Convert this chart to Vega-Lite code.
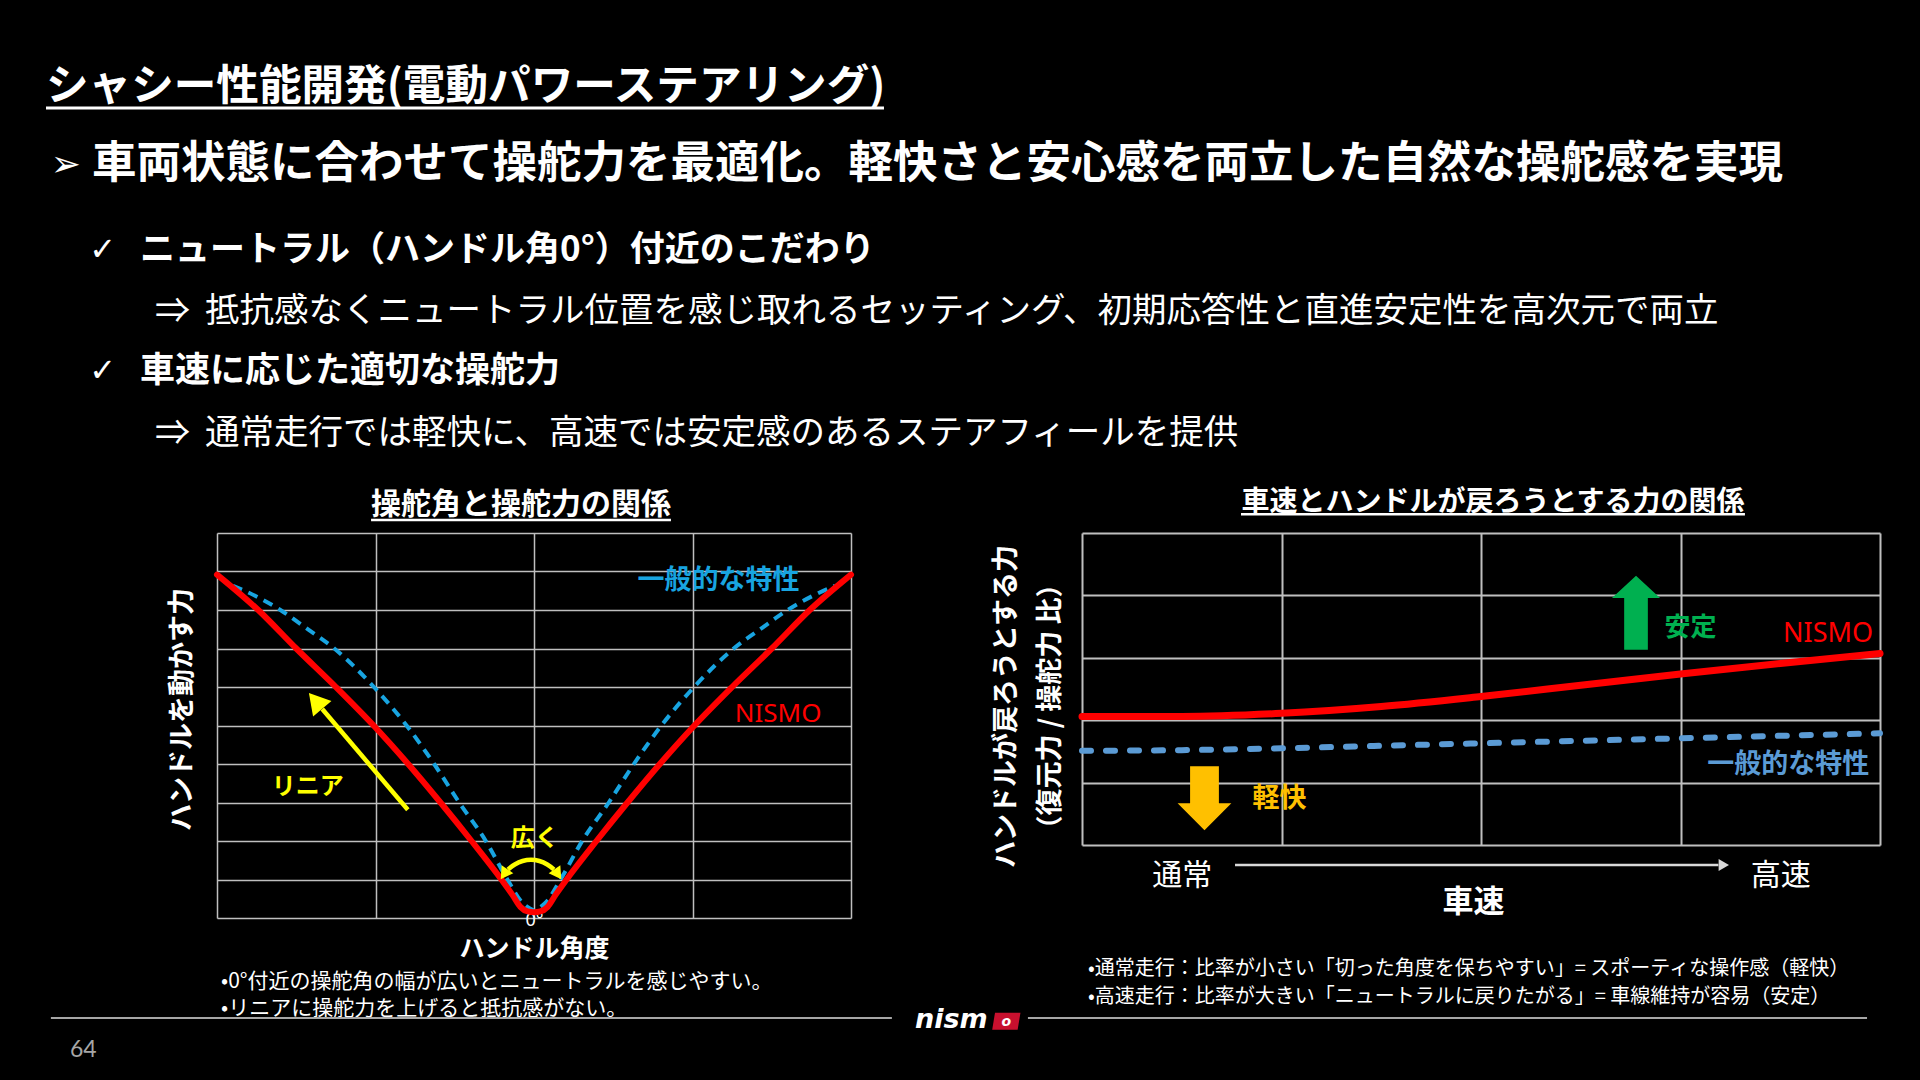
{
  "$schema": "https://vega.github.io/schema/vega-lite/v6.json",
  "background": "#000000",
  "padding": {"left": 0, "top": 0, "right": 0, "bottom": 40},
  "columns": 2,
  "spacing": 0,
  "bounds": "flush",
  "config": {
    "view": {"stroke": null},
    "font": "Noto Sans CJK JP",
    "title": {"font": "Noto Sans CJK JP"},
    "axis": {"labelFont": "Noto Sans CJK JP", "titleFont": "Noto Sans CJK JP"},
    "text": {"font": "Noto Sans CJK JP"}
  },
  "datasets": {
    "header": [
      {"line": 0, "depth": 0, "level": "title", "marker": "", "text": "シャシー性能開発(電動パワーステアリング)"},
      {"line": 1, "depth": 1, "level": "headline", "marker": "➢", "text": "車両状態に合わせて操舵力を最適化。軽快さと安心感を両立した自然な操舵感を実現"},
      {"line": 2, "depth": 2, "level": "bullet", "marker": "✓", "text": "ニュートラル（ハンドル角0°）付近のこだわり"},
      {"line": 3, "depth": 3, "level": "detail", "marker": "⇒", "text": "抵抗感なくニュートラル位置を感じ取れるセッティング、初期応答性と直進安定性を高次元で両立"},
      {"line": 4, "depth": 2, "level": "bullet", "marker": "✓", "text": "車速に応じた適切な操舵力"},
      {"line": 5, "depth": 3, "level": "detail", "marker": "⇒", "text": "通常走行では軽快に、高速では安定感のあるステアフィールを提供"}
    ],
    "steer": [
      {"series": "一般的な特性", "angle": -95, "force": 8.63},
      {"series": "一般的な特性", "angle": -88, "force": 8.37},
      {"series": "一般的な特性", "angle": -80, "force": 8.0},
      {"series": "一般的な特性", "angle": -72.2, "force": 7.55},
      {"series": "一般的な特性", "angle": -63, "force": 7.0},
      {"series": "一般的な特性", "angle": -50.5, "force": 6.0},
      {"series": "一般的な特性", "angle": -40.2, "force": 5.0},
      {"series": "一般的な特性", "angle": -31.5, "force": 4.0},
      {"series": "一般的な特性", "angle": -23.6, "force": 3.0},
      {"series": "一般的な特性", "angle": -15.2, "force": 2.0},
      {"series": "一般的な特性", "angle": -8.4, "force": 1.0},
      {"series": "一般的な特性", "angle": -3.9, "force": 0.42},
      {"series": "一般的な特性", "angle": -1.3, "force": 0.25},
      {"series": "一般的な特性", "angle": 0, "force": 0.2},
      {"series": "一般的な特性", "angle": 1.3, "force": 0.25},
      {"series": "一般的な特性", "angle": 3.9, "force": 0.42},
      {"series": "一般的な特性", "angle": 8.4, "force": 1.0},
      {"series": "一般的な特性", "angle": 15.2, "force": 2.0},
      {"series": "一般的な特性", "angle": 23.6, "force": 3.0},
      {"series": "一般的な特性", "angle": 31.5, "force": 4.0},
      {"series": "一般的な特性", "angle": 40.2, "force": 5.0},
      {"series": "一般的な特性", "angle": 50.5, "force": 6.0},
      {"series": "一般的な特性", "angle": 63, "force": 7.0},
      {"series": "一般的な特性", "angle": 72.2, "force": 7.55},
      {"series": "一般的な特性", "angle": 80, "force": 8.0},
      {"series": "一般的な特性", "angle": 88, "force": 8.37},
      {"series": "一般的な特性", "angle": 95, "force": 8.63},
      {"series": "NISMO", "angle": -100, "force": 8.92},
      {"series": "NISMO", "angle": -87, "force": 8.0},
      {"series": "NISMO", "angle": -75, "force": 7.0},
      {"series": "NISMO", "angle": -62.5, "force": 6.0},
      {"series": "NISMO", "angle": -50.6, "force": 5.0},
      {"series": "NISMO", "angle": -39.7, "force": 4.0},
      {"series": "NISMO", "angle": -29.5, "force": 3.0},
      {"series": "NISMO", "angle": -19.7, "force": 2.0},
      {"series": "NISMO", "angle": -10.3, "force": 1.0},
      {"series": "NISMO", "angle": -6.8, "force": 0.6},
      {"series": "NISMO", "angle": -4.3, "force": 0.29},
      {"series": "NISMO", "angle": -2, "force": 0.17},
      {"series": "NISMO", "angle": 0, "force": 0.15},
      {"series": "NISMO", "angle": 2, "force": 0.17},
      {"series": "NISMO", "angle": 4.3, "force": 0.29},
      {"series": "NISMO", "angle": 6.8, "force": 0.6},
      {"series": "NISMO", "angle": 10.3, "force": 1.0},
      {"series": "NISMO", "angle": 19.7, "force": 2.0},
      {"series": "NISMO", "angle": 29.5, "force": 3.0},
      {"series": "NISMO", "angle": 39.7, "force": 4.0},
      {"series": "NISMO", "angle": 50.6, "force": 5.0},
      {"series": "NISMO", "angle": 62.5, "force": 6.0},
      {"series": "NISMO", "angle": 75, "force": 7.0},
      {"series": "NISMO", "angle": 87, "force": 8.0},
      {"series": "NISMO", "angle": 100, "force": 8.92}
    ],
    "left_arrows": [
      {"arrow": "linear", "angle": -39.8, "force": 2.81},
      {"arrow": "linear", "angle": -66.8, "force": 5.43},
      {"arrow": "wide", "angle": -8.2, "force": 1.26},
      {"arrow": "wide", "angle": -6.07, "force": 1.39},
      {"arrow": "wide", "angle": -3.6, "force": 1.48},
      {"arrow": "wide", "angle": -0.95, "force": 1.51},
      {"arrow": "wide", "angle": 1.7, "force": 1.48},
      {"arrow": "wide", "angle": 4.18, "force": 1.39},
      {"arrow": "wide", "angle": 6.31, "force": 1.26}
    ],
    "left_heads": [
      {"head": "linear", "angle": -68.9, "force": 5.64},
      {"head": "wide_left", "angle": -9.43, "force": 1.135},
      {"head": "wide_right", "angle": 7.54, "force": 1.135}
    ],
    "speed": [
      {"series": "一般的な特性", "speed": 0, "ratio": 1.51},
      {"series": "一般的な特性", "speed": 0.5, "ratio": 1.52},
      {"series": "一般的な特性", "speed": 1, "ratio": 1.55},
      {"series": "一般的な特性", "speed": 1.5, "ratio": 1.59},
      {"series": "一般的な特性", "speed": 2, "ratio": 1.63},
      {"series": "一般的な特性", "speed": 2.5, "ratio": 1.67},
      {"series": "一般的な特性", "speed": 3, "ratio": 1.71},
      {"series": "一般的な特性", "speed": 3.5, "ratio": 1.75},
      {"series": "一般的な特性", "speed": 4, "ratio": 1.79},
      {"series": "NISMO", "speed": 0, "ratio": 2.06},
      {"series": "NISMO", "speed": 0.5, "ratio": 2.06},
      {"series": "NISMO", "speed": 1, "ratio": 2.11},
      {"series": "NISMO", "speed": 1.5, "ratio": 2.22},
      {"series": "NISMO", "speed": 2, "ratio": 2.38},
      {"series": "NISMO", "speed": 2.5, "ratio": 2.56},
      {"series": "NISMO", "speed": 3, "ratio": 2.74},
      {"series": "NISMO", "speed": 3.5, "ratio": 2.91},
      {"series": "NISMO", "speed": 4, "ratio": 3.07}
    ]
  },
  "concat": [
    {
      "width": 960,
      "height": 533,
      "data": {"name": "header"},
      "encoding": {
        "x": {"field": "depth", "type": "quantitative", "scale": {"domain": [0, 3], "range": [46, 202], "nice": false, "zero": false}, "axis": null},
        "y": {"field": "line", "type": "quantitative", "scale": {"domain": [2, 5], "range": [248, 430], "nice": false, "zero": false}, "axis": null}
      },
      "layer": [
        {
          "transform": [{"filter": "datum.level === 'title'"}],
          "mark": {"type": "text", "align": "left", "baseline": "middle", "fontSize": 42.6, "fontWeight": "bold", "color": "#ffffff", "dy": -40},
          "encoding": {"text": {"field": "text", "type": "nominal"}}
        },
        {
          "transform": [{"filter": "datum.level === 'title'"}],
          "mark": {"type": "rule", "color": "#ffffff", "strokeWidth": 3},
          "encoding": {"x": {"datum": 0}, "x2": {"datum": 16.115}, "y": {"datum": -0.308}}
        },
        {
          "transform": [{"filter": "datum.level === 'headline'"}],
          "mark": {"type": "text", "align": "left", "baseline": "middle", "fontSize": 44.5, "fontWeight": "bold", "color": "#ffffff", "dx": -6, "dy": -22.8},
          "encoding": {"text": {"field": "text", "type": "nominal"}}
        },
        {
          "transform": [{"filter": "datum.level === 'headline'"}],
          "mark": {"type": "text", "align": "right", "baseline": "middle", "font": "DejaVu Sans", "fontSize": 36, "color": "#ffffff", "dx": -17, "dy": -22.8},
          "encoding": {"text": {"field": "marker", "type": "nominal"}}
        },
        {
          "transform": [{"filter": "datum.level === 'bullet'"}],
          "mark": {"type": "text", "align": "left", "baseline": "middle", "fontSize": 35, "fontWeight": "bold", "color": "#ffffff", "dx": -10, "dy": 2},
          "encoding": {"text": {"field": "text", "type": "nominal"}}
        },
        {
          "transform": [{"filter": "datum.level === 'bullet'"}],
          "mark": {"type": "text", "align": "right", "baseline": "middle", "font": "DejaVu Sans", "fontSize": 32, "color": "#ffffff", "dx": -34, "dy": 2},
          "encoding": {"text": {"field": "marker", "type": "nominal"}}
        },
        {
          "transform": [{"filter": "datum.level === 'detail'"}],
          "mark": {"type": "text", "align": "left", "baseline": "middle", "fontSize": 34.5, "color": "#ffffff", "dx": 3, "dy": 3.5},
          "encoding": {"text": {"field": "text", "type": "nominal"}}
        },
        {
          "transform": [{"filter": "datum.level === 'detail'"}],
          "mark": {"type": "text", "align": "right", "baseline": "middle", "fontSize": 35, "color": "#ffffff", "dx": -12, "dy": 3.5},
          "encoding": {"text": {"field": "marker", "type": "nominal"}}
        }
      ]
    },
    {
      "width": 960,
      "height": 533,
      "data": {"values": []},
      "mark": {"type": "text"},
      "encoding": {}
    },
    {
      "width": 960,
      "height": 385,
      "title": {"text": "操舵角と操舵力の関係", "fontSize": 30, "fontWeight": "bold", "color": "#ffffff", "anchor": "middle", "dx": 41, "offset": -31.5, "baseline": "bottom"},
      "layer": [
        {
          "data": {"name": "steer"},
          "transform": [{"filter": "datum.series === '一般的な特性'"}],
          "mark": {"type": "line", "color": "#18a4e0", "strokeWidth": 4, "strokeDash": [10, 7], "interpolate": "monotone"},
          "encoding": {
            "x": {
              "field": "angle", "type": "quantitative",
              "scale": {"domain": [-100, 100], "range": [217, 851], "nice": false, "zero": false},
              "axis": {
                "values": [-100, -50, 0, 50, 100],
                "tickCount": 30,
                "grid": true, "gridColor": "#bfbfbf", "gridWidth": 1.5,
                "domain": false, "ticks": false, "tickSize": 0,
                "labelExpr": "datum.value === 0 ? '0°' : ''",
                "labelColor": "#ffffff", "labelFont": "Noto Sans", "labelFontSize": 18,
                "labelBaseline": "middle", "labelPadding": 2, "labelFlush": false, "labelOverlap": false,
                "title": "ハンドル角度", "titleColor": "#ffffff", "titleFontSize": 25, "titleFontWeight": "bold",
                "titleY": 38, "titleBaseline": "alphabetic"
              }
            },
            "y": {
              "field": "force", "type": "quantitative",
              "scale": {"domain": [0, 10], "nice": false, "zero": false},
              "axis": {
                "values": [0, 1, 2, 3, 4, 5, 6, 7, 8, 9, 10],
                "tickCount": 30,
                "grid": true, "gridColor": "#bfbfbf", "gridWidth": 1.5,
                "domain": false, "ticks": false, "labels": false,
                "title": "ハンドルを動かす力", "titleColor": "#ffffff", "titleFontSize": 27, "titleFontWeight": "bold",
                "titleAngle": 270, "titleX": 190, "titleY": 176, "titleBaseline": "alphabetic", "titleAlign": "center"
              }
            }
          }
        },
        {
          "data": {"name": "steer"},
          "transform": [{"filter": "datum.series === 'NISMO'"}],
          "mark": {"type": "line", "color": "#ff0000", "strokeWidth": 6, "strokeJoin": "round", "strokeCap": "round", "interpolate": "monotone"},
          "encoding": {
            "x": {"field": "angle", "type": "quantitative"},
            "y": {"field": "force", "type": "quantitative"}
          }
        },
        {
          "data": {"name": "left_arrows"},
          "mark": {"type": "line", "color": "#ffff00", "strokeWidth": 4.5, "interpolate": "monotone"},
          "encoding": {
            "x": {"field": "angle", "type": "quantitative"},
            "y": {"field": "force", "type": "quantitative"},
            "detail": {"field": "arrow", "type": "nominal"}
          }
        },
        {
          "data": {"name": "left_heads"},
          "transform": [{"filter": "datum.head === 'linear'"}],
          "mark": {"type": "point", "shape": "triangle-up", "filled": true, "color": "#ffff00", "opacity": 1, "size": 576, "angle": -40, "strokeWidth": 0},
          "encoding": {"x": {"field": "angle", "type": "quantitative"}, "y": {"field": "force", "type": "quantitative"}}
        },
        {
          "data": {"name": "left_heads"},
          "transform": [{"filter": "datum.head === 'wide_left'"}],
          "mark": {"type": "point", "shape": "triangle-up", "filled": true, "color": "#ffff00", "opacity": 1, "size": 196, "angle": 214, "strokeWidth": 0},
          "encoding": {"x": {"field": "angle", "type": "quantitative"}, "y": {"field": "force", "type": "quantitative"}}
        },
        {
          "data": {"name": "left_heads"},
          "transform": [{"filter": "datum.head === 'wide_right'"}],
          "mark": {"type": "point", "shape": "triangle-up", "filled": true, "color": "#ffff00", "opacity": 1, "size": 196, "angle": 146, "strokeWidth": 0},
          "encoding": {"x": {"field": "angle", "type": "quantitative"}, "y": {"field": "force", "type": "quantitative"}}
        },
        {
          "data": {"values": [{}]},
          "mark": {"type": "text", "align": "center", "baseline": "middle", "fontSize": 27, "fontWeight": "bold", "color": "#18a4e0"},
          "encoding": {"x": {"datum": 58.2}, "y": {"datum": 8.75}, "text": {"value": "一般的な特性"}}
        },
        {
          "data": {"values": [{}]},
          "mark": {"type": "text", "align": "center", "baseline": "middle", "font": "Noto Sans", "fontSize": 26, "color": "#ff0000"},
          "encoding": {"x": {"datum": 77}, "y": {"datum": 5.3}, "text": {"value": "NISMO"}}
        },
        {
          "data": {"values": [{}]},
          "mark": {"type": "text", "align": "center", "baseline": "middle", "fontSize": 24, "fontWeight": "bold", "color": "#ffff00"},
          "encoding": {"x": {"datum": -71.4}, "y": {"datum": 3.39}, "text": {"value": "リニア"}}
        },
        {
          "data": {"values": [{}]},
          "mark": {"type": "text", "align": "center", "baseline": "middle", "fontSize": 24, "fontWeight": "bold", "color": "#ffff00"},
          "encoding": {"x": {"datum": 0.2}, "y": {"datum": 2.05}, "text": {"value": "広く"}}
        },
        {
          "data": {"values": [{}]},
          "mark": {"type": "rule", "color": "#ffffff", "strokeWidth": 2.5},
          "encoding": {"x": {"datum": -51.4}, "x2": {"datum": 43.2}, "y": {"datum": 10.34}}
        },
        {
          "data": {"values": [{}]},
          "mark": {"type": "text", "align": "left", "baseline": "alphabetic", "fontSize": 21, "color": "#ffffff", "lineHeight": 27, "dx": 4},
          "encoding": {"x": {"datum": -100}, "y": {"datum": -1.818}, "text": {"value": ["•0°付近の操舵角の幅が広いとニュートラルを感じやすい。", "•リニアに操舵力を上げると抵抗感がない。"]}}
        },
        {
          "data": {"values": [{}]},
          "mark": {"type": "rule", "color": "#a6a6a6", "strokeWidth": 2},
          "encoding": {"x": {"datum": -152.4}, "x2": {"datum": 112.9}, "y": {"datum": -2.597}}
        },
        {
          "data": {"values": [{}]},
          "mark": {"type": "text", "align": "left", "baseline": "middle", "font": "Lato", "fontSize": 23, "color": "#a6a6a6"},
          "encoding": {"x": {"datum": -146.4}, "y": {"datum": -3.43}, "text": {"value": "64"}}
        },
        {
          "data": {"values": [{}]},
          "mark": {"type": "text", "align": "left", "baseline": "middle", "font": "DejaVu Sans", "fontSize": 27, "fontWeight": "bold", "fontStyle": "italic", "color": "#ffffff"},
          "encoding": {"x": {"datum": 120.2}, "y": {"datum": -2.655}, "text": {"value": "nism"}}
        },
        {
          "data": {"values": [{}]},
          "mark": {"type": "point", "shape": "M-0.8,-0.6L1,-0.6L0.8,0.6L-1,0.6Z", "filled": true, "color": "#c8102e", "opacity": 1, "size": 800, "strokeWidth": 0},
          "encoding": {"x": {"datum": 149}, "y": {"datum": -2.68}}
        },
        {
          "data": {"values": [{}]},
          "mark": {"type": "text", "align": "center", "baseline": "middle", "font": "DejaVu Sans", "fontSize": 14, "fontWeight": "bold", "fontStyle": "italic", "color": "#ffffff"},
          "encoding": {"x": {"datum": 149}, "y": {"datum": -2.7}, "text": {"value": "o"}}
        }
      ]
    },
    {
      "width": 960,
      "height": 312,
      "title": {"text": "車速とハンドルが戻ろうとする力の関係", "fontSize": 28, "fontWeight": "bold", "color": "#ffffff", "anchor": "middle", "dx": 53, "offset": -32, "baseline": "bottom"},
      "layer": [
        {
          "data": {"name": "speed"},
          "transform": [{"filter": "datum.series === '一般的な特性'"}],
          "mark": {"type": "line", "color": "#5b9bd5", "strokeWidth": 6, "strokeDash": [9, 15], "strokeCap": "round", "interpolate": "monotone"},
          "encoding": {
            "x": {
              "field": "speed", "type": "quantitative",
              "scale": {"domain": [0, 4], "range": [122, 920], "nice": false, "zero": false},
              "axis": {
                "values": [0, 0.5, 1, 2, 3, 3.5, 4],
                "tickCount": 30,
                "grid": true, "gridColor": "#bfbfbf", "gridWidth": 2,
                "gridOpacity": {"condition": {"test": "datum.value === 0.5 || datum.value === 3.5", "value": 0}, "value": 1},
                "domain": false, "ticks": false, "tickSize": 0,
                "labelExpr": "datum.value === 0.5 ? '通常' : datum.value === 3.5 ? '高速' : ''",
                "labelColor": "#ffffff", "labelFontSize": 30, "labelBaseline": "middle", "labelPadding": 30,
                "labelFlush": false, "labelOverlap": false,
                "title": "車速", "titleColor": "#ffffff", "titleFontSize": 31, "titleFontWeight": "bold",
                "titleX": 513, "titleY": 66.8, "titleBaseline": "alphabetic", "titleAlign": "center"
              }
            },
            "y": {
              "field": "ratio", "type": "quantitative",
              "scale": {"domain": [0, 5], "nice": false, "zero": false},
              "axis": {
                "values": [0, 1, 2, 3, 4, 5],
                "tickCount": 30,
                "grid": true, "gridColor": "#bfbfbf", "gridWidth": 2,
                "domain": false, "ticks": false, "labels": false,
                "title": ["ハンドルが戻ろうとする力", "（復元力 / 操舵力 比）"],
                "titleColor": "#ffffff", "titleFontSize": 27, "titleFontWeight": "bold", "titleLineHeight": 44,
                "titleAngle": 270, "titleX": 54.3, "titleY": 173, "titleBaseline": "alphabetic", "titleAlign": "center"
              }
            }
          }
        },
        {
          "data": {"name": "speed"},
          "transform": [{"filter": "datum.series === 'NISMO'"}],
          "mark": {"type": "line", "color": "#ff0000", "strokeWidth": 7, "strokeCap": "round", "interpolate": "monotone"},
          "encoding": {
            "x": {"field": "speed", "type": "quantitative"},
            "y": {"field": "ratio", "type": "quantitative"}
          }
        },
        {
          "data": {"values": [{}]},
          "mark": {"type": "point", "shape": "M-0.32,1L0.32,1L0.32,-0.4L0.65,-0.4L0,-1L-0.65,-0.4L-0.32,-0.4Z", "filled": true, "color": "#00b050", "opacity": 1, "size": 5476, "strokeWidth": 0},
          "encoding": {"x": {"datum": 2.777}, "y": {"datum": 3.72}}
        },
        {
          "data": {"values": [{}]},
          "mark": {"type": "point", "shape": "M-0.45,-1L0.45,-1L0.45,0.16L0.84,0.16L0,1L-0.84,0.16L-0.45,0.16Z", "filled": true, "color": "#ffc000", "opacity": 1, "size": 4096, "strokeWidth": 0},
          "encoding": {"x": {"datum": 0.614}, "y": {"datum": 0.75}}
        },
        {
          "data": {"values": [{}]},
          "mark": {"type": "text", "align": "center", "baseline": "middle", "fontSize": 26, "fontWeight": "bold", "color": "#00b050"},
          "encoding": {"x": {"datum": 3.05}, "y": {"datum": 3.47}, "text": {"value": "安定"}}
        },
        {
          "data": {"values": [{}]},
          "mark": {"type": "text", "align": "center", "baseline": "middle", "font": "Noto Sans", "fontSize": 27, "color": "#ff0000"},
          "encoding": {"x": {"datum": 3.74}, "y": {"datum": 3.38}, "text": {"value": "NISMO"}}
        },
        {
          "data": {"values": [{}]},
          "mark": {"type": "text", "align": "center", "baseline": "middle", "fontSize": 27, "fontWeight": "bold", "color": "#5b9bd5"},
          "encoding": {"x": {"datum": 3.54}, "y": {"datum": 1.29}, "text": {"value": "一般的な特性"}}
        },
        {
          "data": {"values": [{}]},
          "mark": {"type": "text", "align": "center", "baseline": "middle", "fontSize": 27, "fontWeight": "bold", "color": "#ffc000"},
          "encoding": {"x": {"datum": 0.99}, "y": {"datum": 0.73}, "text": {"value": "軽快"}}
        },
        {
          "data": {"values": [{}]},
          "mark": {"type": "rule", "color": "#d9d9d9", "strokeWidth": 2.5},
          "encoding": {"x": {"datum": 0.767}, "x2": {"datum": 3.19}, "y": {"datum": -0.32}}
        },
        {
          "data": {"values": [{}]},
          "mark": {"type": "point", "shape": "triangle-right", "filled": true, "color": "#d9d9d9", "opacity": 1, "size": 144, "strokeWidth": 0},
          "encoding": {"x": {"datum": 3.217}, "y": {"datum": -0.32}}
        },
        {
          "data": {"values": [{}]},
          "mark": {"type": "rule", "color": "#ffffff", "strokeWidth": 2.5},
          "encoding": {"x": {"datum": 0.797}, "x2": {"datum": 3.323}, "y": {"datum": 5.3}}
        },
        {
          "data": {"values": [{}]},
          "mark": {"type": "text", "align": "left", "baseline": "alphabetic", "fontSize": 20, "color": "#ffffff", "lineHeight": 28},
          "encoding": {"x": {"datum": 0.03}, "y": {"datum": -2.085}, "text": {"value": ["•通常走行：比率が小さい「切った角度を保ちやすい」= スポーティな操作感（軽快）", "•高速走行：比率が大きい「ニュートラルに戻りたがる」= 車線維持が容易（安定）"]}}
        },
        {
          "data": {"values": [{}]},
          "mark": {"type": "rule", "color": "#a6a6a6", "strokeWidth": 2},
          "encoding": {"x": {"datum": -0.271}, "x2": {"datum": 3.935}, "y": {"datum": -2.772}}
        }
      ]
    }
  ]
}
